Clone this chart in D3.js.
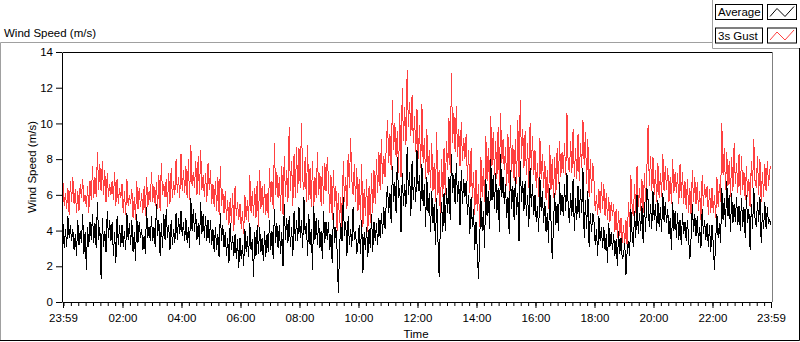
<!DOCTYPE html>
<html>
<head>
<meta charset="utf-8">
<script src="https://cdn.jsdelivr.net/npm/d3@7"></script>
<style>
  body { margin: 0; background: #fff; }
  svg { display: block; font-family: "Liberation Sans", Arial, sans-serif; }
  .tick text { font-size: 11.5px; fill: #000; }
</style>
</head>
<body>
<div class="plot"></div>
<script>
// wind speed samples every 2.5 minutes, 23:59 -> 23:59 (one row = one hour)
const sampleStep = 2.5;
const gust = [
  6.7,5.4,6.1,5.2,6.4,4.9,6.8,5.6,7.0,5.5,6.3,5.0,6.2,5.1,6.6,5.8,6.9,5.6,6.0,5.3,6.5,5.0,6.8,5.7,
  7.6,5.8,7.0,5.9,8.4,6.3,7.7,6.2,7.9,6.0,7.4,5.6,7.2,5.9,6.6,6.0,6.8,5.7,7.3,5.4,6.9,5.5,6.4,5.8,
  6.6,5.0,6.2,4.9,6.9,5.4,6.0,5.5,6.3,4.7,5.9,4.6,6.8,5.2,6.4,5.3,6.1,5.0,6.5,4.8,7.0,5.3,6.2,5.6,
  7.3,5.6,6.5,5.4,6.7,5.2,7.1,5.1,7.8,6.0,6.6,5.9,6.9,5.3,7.2,5.5,7.5,5.8,6.8,6.0,8.0,6.1,7.0,5.8,
  8.3,6.2,7.4,6.1,7.6,5.8,8.0,5.7,8.8,6.5,7.3,6.4,7.9,6.0,8.2,6.0,8.5,6.3,7.1,5.9,7.2,5.6,7.8,6.3,
  7.4,5.5,6.6,5.3,6.8,5.1,7.0,4.9,7.6,5.4,6.3,5.0,6.2,4.6,5.7,4.3,5.8,4.4,6.1,4.0,6.5,4.8,5.6,4.6,
  5.5,4.1,5.1,3.8,6.0,4.6,5.7,4.5,7.1,5.0,6.2,4.8,6.4,4.7,6.8,4.2,7.4,5.2,6.5,5.0,6.6,4.9,6.1,4.7,
  7.5,5.6,6.8,5.2,8.9,6.0,7.3,5.8,7.0,5.1,7.6,4.9,8.2,5.9,7.4,5.6,9.8,6.2,7.9,5.4,8.3,5.8,8.7,6.1,
  8.6,6.4,10.0,6.9,6.3,8.1,5.6,8.8,5.7,7.5,5.3,7.9,5.2,7.0,5.8,8.4,6.0,7.2,5.4,7.6,5.5,7.8,6.2,8.1,
  6.8,5.0,7.1,4.6,7.4,5.3,6.5,4.0,6.1,4.4,5.9,3.9,7.9,5.6,7.0,5.2,8.3,6.4,9.2,6.8,6.0,7.7,5.6,7.5,
  5.1,6.9,4.6,7.7,4.2,6.3,4.8,6.9,3.9,6.5,4.4,7.2,5.0,7.4,5.5,8.0,6.1,8.4,6.3,9.1,6.6,8.2,7.0,8.7,
  10.2,7.8,9.4,7.4,11.3,8.5,10.0,8.1,9.6,7.2,10.6,7.0,12.0,9.0,10.9,8.8,13.0,9.8,11.2,9.3,11.6,8.9,10.4,8.4,
  10.8,8.0,9.9,7.5,11.1,7.8,9.2,6.9,9.7,7.1,8.5,6.4,8.9,6.2,7.8,5.6,9.5,6.0,7.4,4.6,8.0,5.9,8.6,6.0,
  9.0,7.4,10.3,7.2,12.8,8.9,10.6,8.4,11.0,8.1,9.7,7.6,10.1,7.9,9.2,8.0,9.4,6.8,8.5,6.1,8.6,5.8,7.3,4.9,
  7.4,5.1,6.6,4.2,8.1,5.9,7.5,5.6,9.3,6.8,8.6,6.3,10.4,7.6,9.5,7.1,9.0,6.9,9.8,6.5,10.6,7.8,9.1,7.4,
  8.7,6.5,9.4,6.2,9.9,7.3,8.8,6.8,9.1,6.6,10.2,7.0,11.3,8.0,9.7,7.5,9.6,7.1,8.9,6.4,10.0,7.4,9.3,7.1,
  8.5,6.4,7.8,5.9,9.2,6.9,8.3,6.4,7.9,5.7,7.4,5.2,8.8,6.3,8.0,5.8,8.1,6.0,8.6,6.6,9.0,7.0,8.4,7.2,
  8.9,7.1,10.6,7.6,7.3,9.0,7.2,9.7,7.0,8.6,6.9,9.4,6.8,8.9,7.5,10.2,7.7,9.5,6.6,9.1,5.9,8.0,6.1,7.8,
  6.8,5.1,6.0,4.9,6.3,5.0,6.7,5.2,6.6,4.8,6.1,4.6,5.9,4.5,5.6,4.8,5.5,3.9,5.2,3.6,5.1,3.7,4.7,3.3,
  4.3,3.2,4.6,3.0,5.6,4.2,7.1,5.4,4.8,6.6,5.0,7.6,5.3,6.4,5.1,6.9,5.0,7.2,5.6,7.4,9.9,6.5,8.2,6.2,
  8.1,6.0,7.4,5.6,7.8,5.8,7.2,5.9,8.3,6.2,7.6,6.3,7.5,5.6,7.0,5.5,8.0,6.1,7.3,6.1,7.2,5.5,7.7,5.8,
  7.3,5.5,6.8,5.2,6.9,5.0,6.4,4.8,7.4,5.6,7.0,5.5,6.7,5.1,6.2,4.6,7.1,5.4,6.6,5.8,6.5,4.9,6.3,5.0,
  6.4,5.0,6.0,4.7,7.0,5.3,6.6,5.6,10.0,7.1,8.6,6.3,8.4,6.5,7.9,5.9,8.1,6.2,8.9,6.6,7.8,6.1,8.3,6.0,
  8.2,6.3,7.3,5.7,7.6,5.9,6.9,5.3,7.9,6.4,9.1,6.8,6.4,8.2,6.0,8.0,5.6,7.3,5.9,7.7,6.2,7.9,6.5,7.4,
  7.6
];
const average = [
  4.4,3.0,4.1,3.1,4.8,3.6,4.3,3.4,4.1,2.9,3.8,2.6,4.6,3.2,4.0,3.3,4.9,2.7,3.9,1.8,4.2,3.1,4.5,3.5,
  4.9,3.3,4.4,3.0,5.6,3.5,4.2,1.3,4.7,3.1,4.0,2.8,5.1,3.6,4.6,3.4,4.5,2.6,3.9,2.2,4.8,3.2,4.3,3.1,
  4.3,3.1,4.0,2.9,5.0,3.5,4.4,3.2,4.6,2.8,3.9,2.3,4.9,3.3,4.5,3.6,4.1,2.9,3.7,2.7,5.3,3.6,4.2,3.4,
  4.8,3.4,4.2,3.1,5.5,3.7,4.6,2.6,4.4,3.0,4.9,3.5,5.2,3.6,4.3,2.9,4.6,3.2,4.1,3.3,5.0,3.5,4.7,3.8,
  5.1,3.7,4.5,3.4,4.7,3.3,4.2,3.0,5.8,4.0,5.2,3.9,5.0,3.5,4.4,3.2,5.6,3.8,4.9,3.6,4.8,3.4,4.6,3.3,
  4.6,3.2,4.1,2.8,4.2,2.9,3.8,2.5,5.0,3.4,4.3,3.1,3.9,2.6,3.6,2.2,4.4,2.9,3.7,2.6,3.8,2.4,3.5,1.9,
  3.6,2.4,3.2,2.0,4.1,2.8,3.7,2.5,4.4,2.9,3.5,1.4,3.9,2.6,4.3,2.7,4.2,2.8,3.6,2.3,4.0,2.5,3.8,2.8,
  4.6,2.9,4.0,2.4,5.2,3.3,4.4,3.0,4.3,2.7,3.9,2.0,5.5,3.5,4.7,3.3,4.8,3.1,4.2,2.6,5.1,3.4,4.6,3.4,
  5.3,3.6,4.6,3.0,5.9,3.8,4.4,2.6,4.9,3.2,4.1,1.8,5.4,3.5,4.7,3.2,4.6,3.0,4.0,2.4,5.1,3.3,4.5,3.5,
  4.5,2.9,3.8,2.2,5.0,3.3,4.2,2.9,0.5,3.0,4.4,3.4,5.9,3.7,4.5,2.6,4.8,3.2,4.1,3.1,5.3,3.5,4.0,2.7,
  3.3,4.3,2.7,4.6,1.6,3.9,2.9,4.2,2.5,4.1,3.0,4.9,2.8,4.5,3.4,4.4,3.2,4.7,3.6,5.0,3.8,5.3,4.1,5.6,
  6.5,5.0,6.1,4.4,7.6,5.6,6.7,5.0,8.1,5.8,6.4,3.9,7.2,5.4,6.6,5.3,8.7,6.0,7.3,4.8,7.9,5.7,7.0,5.6,
  8.5,6.2,7.1,5.1,7.7,5.4,6.6,4.2,7.0,5.0,6.1,3.9,6.2,4.4,5.5,3.2,5.8,3.6,1.4,4.3,5.6,3.9,6.1,4.0,
  6.4,5.0,7.0,4.6,8.3,6.1,7.1,5.5,7.8,5.6,6.8,4.3,7.4,5.5,6.9,5.9,6.8,4.9,6.0,3.8,5.9,4.2,5.2,2.9,
  4.5,3.0,1.3,3.4,5.8,4.0,5.1,3.0,6.9,4.8,6.2,4.1,8.0,5.7,7.1,5.2,7.2,5.0,6.4,3.9,8.3,5.9,7.0,5.5,
  6.6,4.7,5.9,3.8,7.4,5.2,6.5,4.6,7.0,4.9,6.1,3.4,7.9,5.6,6.8,5.1,6.8,4.8,6.0,4.2,7.5,5.3,6.6,4.9,
  6.0,4.5,5.4,3.9,7.0,5.1,6.2,4.4,5.6,3.9,5.0,3.3,6.4,4.6,2.4,4.2,6.1,4.3,5.5,4.0,6.7,4.9,6.0,4.8,
  6.6,5.1,7.2,5.4,4.4,6.1,4.8,6.9,4.0,5.8,4.6,6.5,4.7,6.3,5.0,7.5,3.6,5.7,4.1,6.2,3.1,5.0,3.9,5.0,
  4.5,3.2,4.1,2.6,4.8,3.4,4.2,3.0,4.2,2.9,3.8,2.2,4.4,3.1,3.9,2.9,3.8,2.6,3.5,2.0,4.0,2.7,3.6,2.4,
  2.6,3.3,1.5,2.9,3.4,2.6,5.2,3.8,3.1,5.1,3.6,6.0,3.8,5.0,4.0,5.4,3.3,5.6,3.9,6.4,5.7,4.2,5.5,4.1,
  6.2,4.6,5.5,4.0,5.7,4.2,5.3,3.9,6.1,4.5,5.6,4.4,5.2,3.8,4.7,2.9,5.6,4.0,5.1,3.6,5.0,3.5,4.6,3.2,
  5.0,3.8,4.5,3.4,4.6,3.5,2.4,3.6,5.5,3.9,4.9,3.7,4.8,3.3,4.2,3.0,5.2,3.8,4.6,3.5,4.4,3.1,4.3,2.8,
  4.3,3.3,1.8,3.5,4.9,3.6,4.4,3.3,6.4,4.6,5.8,4.2,6.8,4.8,6.0,3.9,6.1,4.4,5.5,4.5,5.9,4.3,5.4,4.0,
  5.8,4.2,5.3,3.6,6.0,4.4,5.2,2.9,5.5,4.1,6.4,4.7,4.2,5.6,4.5,5.9,3.3,5.0,4.1,5.6,4.1,5.3,4.4,4.6,
  4.3
];
const seriesNames = ["Average", "3s Gust"];
const seriesColors = ["#000000", "#ff4040"];
const xTickLabels = ["23:59","02:00","04:00","06:00","08:00","10:00","12:00",
                     "14:00","16:00","18:00","20:00","22:00","23:59"];
const yTicks = [0, 2, 4, 6, 8, 10, 12, 14];

const W = 800, H = 342;
const plot = {left: 63, right: 771, top: 52, bottom: 302};

const svg = d3.select(".plot").append("svg")
    .attr("width", W)
    .attr("height", H);

// time axis
const start = new Date(2021, 0, 1, 23, 59);
const end = d3.timeMinute.offset(start, 1440);
const tickTimes = xTickLabels.map((s, i) => {
    if (i === 0) return start;
    if (i === xTickLabels.length - 1) return end;
    const [hh, mm] = s.split(":").map(Number);
    return new Date(2021, 0, 2, hh, mm);
});

const x = d3.scaleTime().domain([start, end]).range([plot.left, plot.right]);
const y = d3.scaleLinear().domain([0, 14]).range([plot.bottom, plot.top]);

const toPoints = arr => arr.map((v, i) => ({t: new Date(+start + i * sampleStep * 60000), v: v}));

// outer frame
const frame = svg.append("g").attr("fill", "none");
frame.append("path").attr("d", "M0.5,341 V42.5 H712.5").attr("stroke", "#a0a0a0");
frame.append("path").attr("d", "M712.5,0 V48.5 H799").attr("stroke", "#a0a0a0");
frame.append("path").attr("d", "M0,340.5 H799.5 V48").attr("stroke", "#000");

// title
svg.append("text")
    .attr("x", 4)
    .attr("y", 37)
    .style("font-size", "11.5px")
    .text("Wind Speed (m/s)");

// plot area border (top and right)
svg.append("path")
    .attr("d", `M${plot.left},${plot.top + 0.5} H${plot.right + 1.5}`)
    .attr("stroke", "#000").attr("fill", "none");
svg.append("path")
    .attr("d", `M${plot.right + 1.5},${plot.top} V${plot.bottom}`)
    .attr("stroke", "#808080").attr("fill", "none");

// lines
const line = d3.line()
    .x(d => x(d.t))
    .y(d => y(d.v));

svg.append("path")
    .datum(toPoints(gust))
    .attr("d", line)
    .attr("fill", "none")
    .attr("stroke", seriesColors[1])
    .attr("stroke-width", 1)
    .attr("shape-rendering", "crispEdges");

svg.append("path")
    .datum(toPoints(average))
    .attr("d", line)
    .attr("fill", "none")
    .attr("stroke", seriesColors[0])
    .attr("stroke-width", 1)
    .attr("shape-rendering", "crispEdges");

// y axis
svg.append("g")
    .attr("transform", `translate(${plot.left - 1},0)`)
    .call(d3.axisLeft(y).tickValues(yTicks).tickSize(6).tickSizeOuter(0).tickPadding(3));

// x axis, minor ticks every 15 min
const minorTimes = d3.timeMinute.every(15).range(start, end);
svg.append("g")
    .attr("transform", `translate(0,${plot.bottom})`)
    .call(d3.axisBottom(x).tickValues(minorTimes).tickSize(4).tickFormat(""))
    .select(".domain").remove();
svg.append("g")
    .attr("transform", `translate(0,${plot.bottom})`)
    .call(d3.axisBottom(x).tickValues(tickTimes).tickSize(6).tickSizeOuter(0).tickPadding(6)
        .tickFormat((d, i) => xTickLabels[i]));

// axis titles
svg.append("text")
    .attr("transform", "translate(36,167) rotate(-90)")
    .attr("text-anchor", "middle")
    .style("font-size", "11.5px")
    .text("Wind Speed (m/s)");
svg.append("text")
    .attr("x", 416)
    .attr("y", 338)
    .attr("text-anchor", "middle")
    .style("font-size", "11.5px")
    .text("Time");

// legend
const legend = svg.append("g");
const rows = legend.selectAll("g")
    .data(seriesNames)
    .enter()
    .append("g")
        .attr("transform", (d, i) => `translate(0,${i * 23.5})`);
rows.append("rect")
    .attr("x", 715.5).attr("y", 4.5)
    .attr("width", 47).attr("height", 15)
    .attr("fill", "#fff").attr("stroke", "#000");
rows.append("text")
    .attr("x", 718).attr("y", 16)
    .style("font-size", "11.5px")
    .text(d => d);
rows.append("rect")
    .attr("x", 767.5).attr("y", 4.5)
    .attr("width", 29).attr("height", 15)
    .attr("fill", "#fff").attr("stroke", "#000");
rows.append("path")
    .attr("d", "M770,16.5 L777,8.5 L785,16.5 L794,6.5")
    .attr("fill", "none")
    .attr("stroke", (d, i) => seriesColors[i]);
</script>
</body>
</html>
